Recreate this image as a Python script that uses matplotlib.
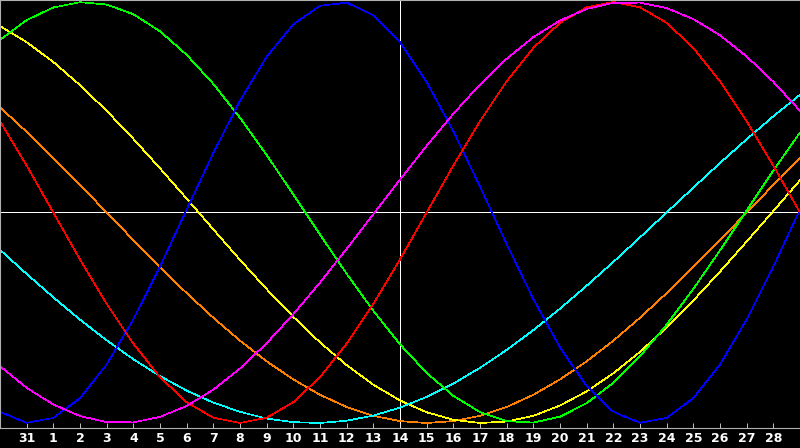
import matplotlib
matplotlib.use("Agg")
import matplotlib.pyplot as plt
import numpy as np

# tick labels (days of month), placed at positions 1..29
day_labels = ["31", "1", "2", "3", "4", "5", "6", "7", "8", "9", "10",
              "11", "12", "13", "14", "15", "16", "17", "18", "19", "20",
              "21", "22", "23", "24", "25", "26", "27", "28"]

# one value per day column (31 columns, left edge to right edge), range -1..1
physical = [-0.947, -0.999, -0.976, -0.882, -0.722, -0.508, -0.257, 0.014, 0.283, 0.531,
            0.740, 0.894, 0.982, 0.997, 0.938, 0.809, 0.620, 0.386, 0.123, -0.150,
            -0.411, -0.641, -0.825, -0.947, -0.999, -0.976, -0.882, -0.722, -0.508, -0.257,
            0.014]
emotional = [0.434, 0.223, 0.0, -0.223, -0.434, -0.623, -0.782, -0.901, -0.975, -1.0,
             -0.975, -0.901, -0.782, -0.623, -0.434, -0.223, 0.0, 0.223, 0.434, 0.623,
             0.782, 0.901, 0.975, 1.0, 0.975, 0.901, 0.782, 0.623, 0.434, 0.223,
             0.0]
intellectual = [0.820, 0.914, 0.974, 0.999, 0.988, 0.942, 0.861, 0.749, 0.611, 0.450,
                0.273, 0.086, -0.105, -0.291, -0.467, -0.626, -0.762, -0.871, -0.948, -0.991,
                -0.998, -0.970, -0.906, -0.809, -0.683, -0.533, -0.363, -0.180, 0.010, 0.199,
                0.380]
intuitive = [-0.730, -0.833, -0.912, -0.967, -0.996, -0.997, -0.971, -0.919, -0.842, -0.741,
             -0.621, -0.483, -0.333, -0.173, -0.008, 0.156, 0.317, 0.469, 0.608, 0.730,
             0.833, 0.912, 0.967, 0.996, 0.997, 0.971, 0.919, 0.842, 0.741, 0.621,
             0.483]
spiritual = [-0.177, -0.292, -0.403, -0.509, -0.607, -0.697, -0.777, -0.846, -0.903, -0.947,
             -0.979, -0.996, -1.000, -0.989, -0.965, -0.927, -0.876, -0.813, -0.738, -0.653,
             -0.559, -0.457, -0.348, -0.235, -0.118, 0.000, 0.118, 0.235, 0.348, 0.457,
             0.559]
aesthetic = [0.886, 0.809, 0.715, 0.605, 0.483, 0.350, 0.210, 0.066, -0.080, -0.225,
             -0.364, -0.496, -0.617, -0.725, -0.818, -0.893, -0.949, -0.985, -1.000, -0.993,
             -0.966, -0.917, -0.850, -0.764, -0.662, -0.546, -0.418, -0.281, -0.138, 0.007,
             0.153]
awareness = [0.500, 0.383, 0.259, 0.131, 0.000, -0.131, -0.259, -0.383, -0.500, -0.609,
             -0.707, -0.793, -0.866, -0.924, -0.966, -0.991, -1.000, -0.991, -0.966, -0.924,
             -0.866, -0.793, -0.707, -0.609, -0.500, -0.383, -0.259, -0.131, 0.000, 0.131,
             0.259]

today_pos = 15  # column of the vertical marker ("14")


def main():
    fig = plt.figure(figsize=(8, 4.48), dpi=100, facecolor="black")
    # plot box spans the full width and rows 0..428 px
    ax = fig.add_axes([0, 20 / 448, 1, 428 / 448], facecolor="black")

    x = np.arange(len(physical))
    lw = 0.5  # ~1 px

    ax.axhline(0, color="white", lw=lw, antialiased=False, zorder=1)
    ax.axvline(today_pos, color="white", lw=lw, antialiased=False, zorder=1)

    series = [
        (awareness, "#ff8000"),
        (aesthetic, "#ffff00"),
        (spiritual, "#00ffff"),
        (intellectual, "#00ff00"),
        (physical, "#0000ff"),
        (emotional, "#ff0000"),
        (intuitive, "#ff00ff"),
    ]
    for values, color in series:
        ax.plot(x, values, color=color, lw=lw, antialiased=False, zorder=2)

    ax.set_xlim(0, 30)
    ax.set_ylim(-1 - 5 / 210.5, 1 + 2 / 210.5)

    ax.set_xticks(np.arange(1, len(day_labels) + 1))
    ax.set_xticklabels(day_labels, fontweight="bold", fontsize=9, color="white")
    ax.set_yticks([])
    ax.tick_params(axis="x", direction="in", length=3.6, width=0.6,
                   color="#e0e0e0", pad=3)

    for side in ["left", "top", "bottom"]:
        ax.spines[side].set_color("#b0b0b0")
        ax.spines[side].set_linewidth(0.8)
    ax.spines["right"].set_visible(False)

    fig.savefig("out.png", dpi=100, facecolor="black")


if __name__ == "__main__":
    main()
